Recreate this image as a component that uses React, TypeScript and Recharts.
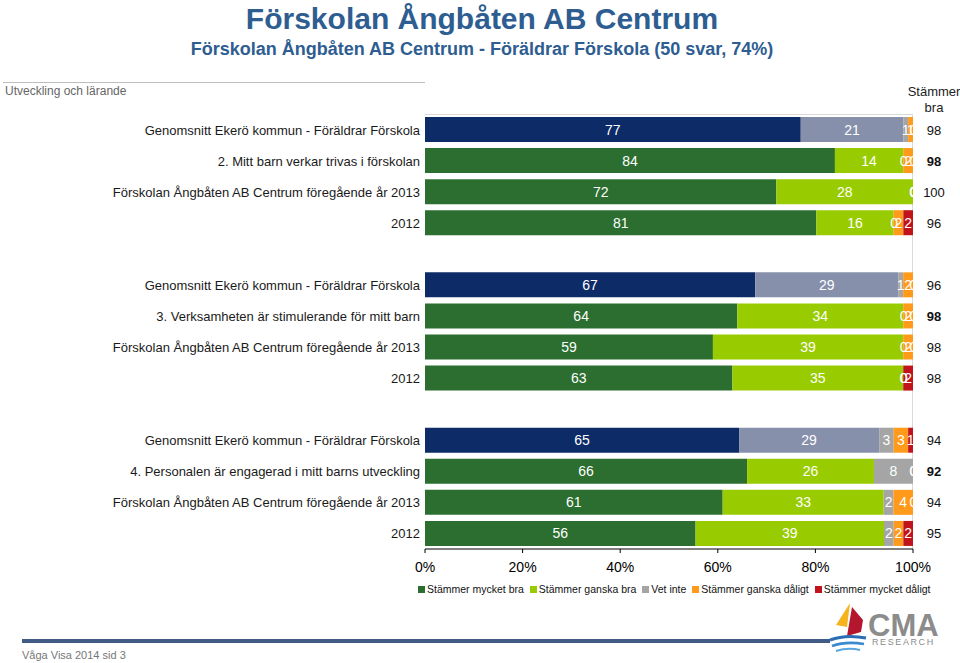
import { BarChart, Bar, XAxis, YAxis, Cell, LabelList } from 'recharts';

// rows, top to bottom; '' rows are the gaps between questions
const categories = [
  'Genomsnitt Ekerö kommun - Föräldrar Förskola',
  '2. Mitt barn verkar trivas i förskolan',
  'Förskolan Ångbåten AB Centrum föregående år 2013',
  '2012',
  '',
  'Genomsnitt Ekerö kommun - Föräldrar Förskola',
  '3. Verksamheten är stimulerande för mitt barn',
  'Förskolan Ångbåten AB Centrum föregående år 2013',
  '2012',
  '',
  'Genomsnitt Ekerö kommun - Föräldrar Förskola',
  '4. Personalen är engagerad i mitt barns utveckling',
  'Förskolan Ångbåten AB Centrum föregående år 2013',
  '2012',
];
const rowKinds = ['kommun', 'fraga', 'skola', 'skola', '', 'kommun', 'fraga', 'skola', 'skola', '', 'kommun', 'fraga', 'skola', 'skola'];

const mycketBra = [77, 84, 72, 81, null, 67, 64, 59, 63, null, 65, 66, 61, 56];
const ganskaBra = [21, 14, 28, 16, null, 29, 34, 39, 35, null, 29, 26, 33, 39];
const vetInte = [1, 0, 0, 0, null, 1, 0, 0, 0, null, 3, 8, 2, 2];
const ganskaDaligt = [1, 2, 0, 2, null, 2, 2, 2, 0, null, 3, 0, 4, 2];
const mycketDaligt = [0, 0, 0, 2, null, 0, 0, 0, 2, null, 1, 0, 0, 2];
const stammerBra = [98, 98, 100, 96, null, 96, 98, 98, 98, null, 94, 92, 94, 95];

const xTicks = [0, 0.2, 0.4, 0.6, 0.8, 1];

const series = [
  { key: 'mycketBra', name: 'Stämmer mycket bra', color: '#2b6e30', kommunColor: '#0c2b67' },
  { key: 'ganskaBra', name: 'Stämmer ganska bra', color: '#99cc00', kommunColor: '#8790ab' },
  { key: 'vetInte', name: 'Vet inte', color: '#a5a5a5', kommunColor: '#a5a5a5' },
  { key: 'ganskaDaligt', name: 'Stämmer ganska dåligt', color: '#ff9a1a', kommunColor: '#ff9a1a' },
  { key: 'mycketDaligt', name: 'Stämmer mycket dåligt', color: '#c0131b', kommunColor: '#c0131b' },
];

const data = categories.map((label, i) => ({
  row: i,
  label,
  mycketBra: mycketBra[i],
  ganskaBra: ganskaBra[i],
  vetInte: vetInte[i],
  ganskaDaligt: ganskaDaligt[i],
  mycketDaligt: mycketDaligt[i],
}));

const FONT = '"Liberation Sans", Arial, sans-serif';
const TOP = 114;
const PLOT_BOTTOM = 84 + 30;

function CategoryTick(props: any) {
  const { y, payload } = props;
  const i = payload?.value ?? 0;
  const bold = rowKinds[i] === 'fraga';
  return (
    <g>
      <text x={420} y={y} dy={5} textAnchor="end" fontSize={13} fill="#1a1a1a">
        {categories[i]}
      </text>
      {stammerBra[i] != null && (
        <text x={934} y={y} dy={5} textAnchor="middle" fontSize={13} fill="#111" fontWeight={bold ? 'bold' : 'normal'}>
          {stammerBra[i]}
        </text>
      )}
    </g>
  );
}

// white value label, drawn for zero-width segments too
function SegmentLabel(props: any) {
  const { x, y, width, height, value } = props;
  if (value == null || x == null) return null;
  return (
    <text x={x + (width || 0) / 2} y={y + height / 2} dy={5} textAnchor="middle" fontSize={14} fill="#fff">
      {String(value)}
    </text>
  );
}

function CmaLogo() {
  return (
    <svg width={130} height={62} style={{ position: 'absolute', left: 826, top: 598 }}>
      <polygon points="24,5 10,27 21,29" fill="#f5b41e" />
      <polygon points="26,9 37,22 35,34 21,38" fill="#b3162d" />
      <path d="M4,42 Q20,36 40,40" stroke="#2a6db5" strokeWidth={3} fill="none" />
      <path d="M6,48 Q20,43 38,46" stroke="#3b8ad0" strokeWidth={2.5} fill="none" />
      <path d="M10,53 Q22,49 34,52" stroke="#5aa7e0" strokeWidth={2} fill="none" />
      <text x={42} y={38} fontSize={31} fontWeight="bold" fill="#8c8c8c" fontFamily={FONT}>CMA</text>
      <text x={46} y={47} fontSize={9} fill="#8c8c8c" letterSpacing={1.6} fontFamily={FONT}>RESEARCH</text>
    </svg>
  );
}

export default function App() {
  return (
    <div style={{ position: 'absolute', left: 0, top: 0, width: 960, height: 663, background: '#fff', fontFamily: FONT, overflow: 'hidden' }}>
      <div style={{ position: 'absolute', left: 0, top: 2, width: 964, textAlign: 'center', fontSize: 30, fontWeight: 'bold', color: '#2e5d91' }}>
        Förskolan Ångbåten AB Centrum
      </div>
      <div style={{ position: 'absolute', left: 0, top: 39, width: 964, textAlign: 'center', fontSize: 18, fontWeight: 'bold', color: '#2e5d91' }}>
        Förskolan Ångbåten AB Centrum - Föräldrar Förskola (50 svar, 74%)
      </div>
      <div style={{ position: 'absolute', left: 3, top: 82, width: 422, borderTop: '1px solid #bdbdbd' }} />
      <div style={{ position: 'absolute', left: 5, top: 84, fontSize: 12, color: '#666' }}>Utveckling och lärande</div>
      <div style={{ position: 'absolute', left: 904, top: 84, width: 60, textAlign: 'center', fontSize: 13, lineHeight: '16px', color: '#222' }}>
        Stämmer
        <br />
        bra
      </div>
      {/* light frame on top and right of the plot */}
      <div style={{ position: 'absolute', left: 425, top: TOP, width: 488, height: 435, borderTop: '1px solid #d9d9d9', borderRight: '1px solid #d9d9d9', boxSizing: 'border-box' }} />

      <BarChart
        width={960}
        height={663}
        data={data}
        layout="vertical"
        stackOffset="expand"
        barSize={25}
        margin={{ top: TOP, right: 47, bottom: 84, left: 0 }}
        style={{ position: 'absolute', left: 0, top: 0 }}
      >
        <XAxis
          type="number"
          domain={[0, 1]}
          ticks={xTicks}
          tickFormatter={(v: number) => `${Math.round(v * 100)}%`}
          axisLine={{ stroke: '#000' }}
          tickLine={{ stroke: '#000' }}
          tickSize={4}
          tickMargin={9}
          tick={{ fontSize: 14, fill: '#000' }}
          height={30}
        />
        <YAxis
          type="category"
          dataKey="row"
          width={425}
          axisLine={false}
          tickLine={false}
          interval={0}
          tick={<CategoryTick />}
        />
        {series.map((s) => (
          <Bar key={s.key} dataKey={s.key} name={s.name} stackId="a" fill={s.color} isAnimationActive={false}>
            {data.map((d, i) => (
              <Cell key={i} fill={rowKinds[i] === 'kommun' ? s.kommunColor : s.color} />
            ))}
          </Bar>
        ))}
      </BarChart>

      {/* same stack again, transparent, so every value label (zeros too) sits above all segments */}
      <BarChart
        width={960}
        height={663}
        data={data}
        layout="vertical"
        stackOffset="expand"
        barSize={25}
        margin={{ top: TOP, right: 47, bottom: PLOT_BOTTOM, left: 425 }}
        style={{ position: 'absolute', left: 0, top: 0, pointerEvents: 'none' }}
      >
        <XAxis type="number" domain={[0, 1]} hide />
        <YAxis type="category" dataKey="row" hide />
        {series.map((s) => (
          <Bar key={s.key} dataKey={s.key} stackId="a" fill="transparent" minPointSize={1} isAnimationActive={false}>
            <LabelList dataKey={s.key} content={<SegmentLabel />} />
          </Bar>
        ))}
      </BarChart>

      <div style={{ position: 'absolute', left: 418, top: 583, display: 'flex', gap: 6, fontSize: 10.5, color: '#111', whiteSpace: 'nowrap' }}>
        {series.map((s) => (
          <div key={s.key} style={{ display: 'flex', alignItems: 'center' }}>
            <span style={{ display: 'inline-block', width: 7, height: 7, background: s.color, marginRight: 2 }} />
            {s.name}
          </div>
        ))}
      </div>

      <div style={{ position: 'absolute', left: 22, top: 639, width: 808, height: 4, background: '#3f5b86' }} />
      <div style={{ position: 'absolute', left: 22, top: 649, fontSize: 11, color: '#777' }}>Våga Visa 2014 sid 3</div>
      <CmaLogo />
    </div>
  );
}
